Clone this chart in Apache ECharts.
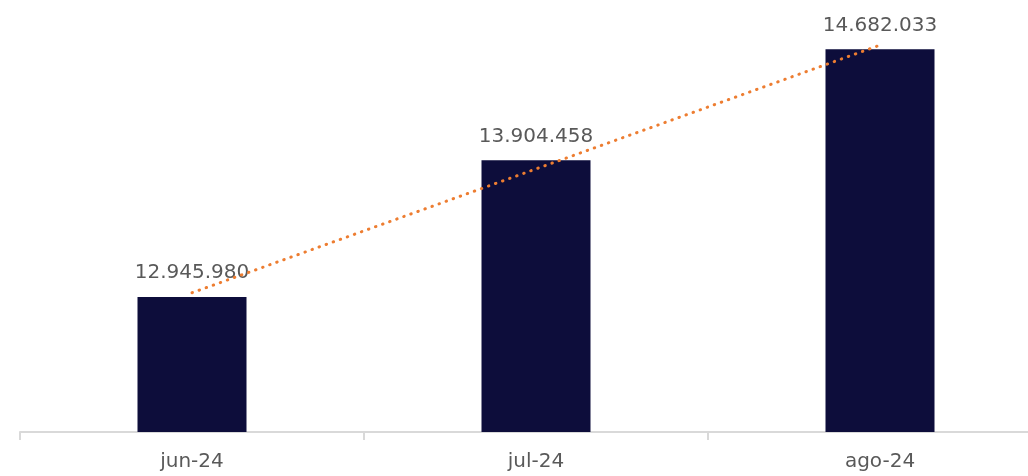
<!DOCTYPE html>
<html><head><meta charset="utf-8">
<script src="https://cdn.jsdelivr.net/npm/echarts@6/dist/echarts.min.js"></script>
<style>html,body{margin:0;padding:0;background:#fff;overflow:hidden;width:1028px;height:476px}#c{width:1052px;height:476px}</style>
</head><body><div id="c"></div>
<script>
const categories = ['jun-24', 'jul-24', 'ago-24'];
const values = [12945980, 13904458, 14682033];
const trendValues = [12976000, 13844000, 14712000];

function fmt(v) { return String(v).replace(/\B(?=(\d{3})+(?!\d))/g, '.'); }

const chart = echarts.init(document.getElementById('c'));
chart.setOption({
  animation: false,
  grid: { left: 20, right: 0, top: 4, bottom: 44 },
  xAxis: {
    type: 'category', data: categories,
    axisLine: { lineStyle: { color: '#d9d9d9', width: 2 } },
    axisTick: { show: true, length: 8, lineStyle: { color: '#d9d9d9', width: 2 } },
    axisLabel: { color: '#595959', fontSize: 20, fontFamily: 'DejaVu Sans', margin: 20 }
  },
  yAxis: { type: 'value', min: 12000000, max: 15000000, show: false, splitLine: { show: false } },
  series: [
    {
      type: 'bar', data: values, barWidth: 109,
      itemStyle: { color: '#0d0d3b' },
      label: { show: true, position: 'top', distance: 14, color: '#595959', fontSize: 20,
               fontFamily: 'DejaVu Sans', formatter: p => fmt(p.value) },
      z: 2
    },
    {
      type: 'line', data: trendValues, symbol: 'none', silent: true,
      lineStyle: { color: '#ED7D31', width: 3, type: [0.5, 7], cap: 'round' },
      z: 10
    }
  ]
});
</script></body></html>
